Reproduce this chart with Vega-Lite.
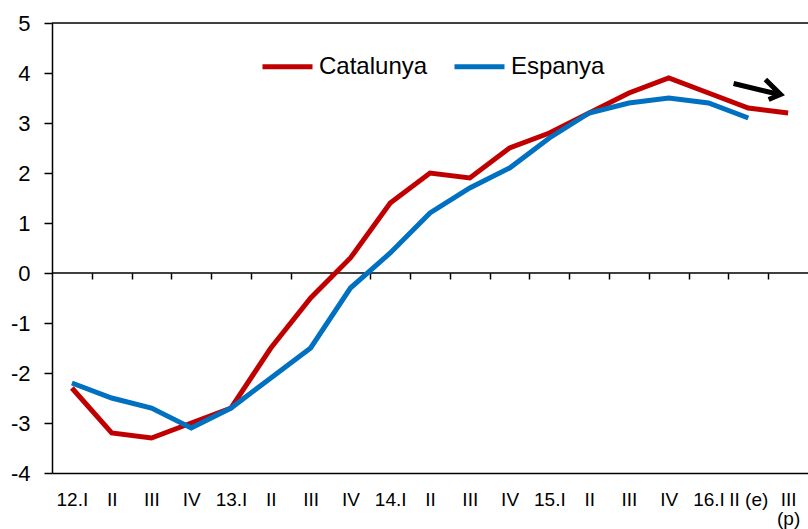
{
  "$schema": "https://vega.github.io/schema/vega-lite/v6.json",
  "width": 756,
  "height": 450,
  "autosize": {"type": "none"},
  "padding": {"left": 52, "top": 23, "right": 0, "bottom": 56},
  "background": "white",
  "config": {
    "view": {"stroke": null},
    "font": "Liberation Sans",
    "axis": {"labelFont": "Liberation Sans", "labelColor": "black", "domainColor": "black", "tickColor": "black", "grid": false, "title": null}
  },
  "datasets": {
    "series": [
      {"series": "Catalunya", "i": 0, "quarter": "12.I", "value": -2.3},
      {"series": "Catalunya", "i": 1, "quarter": "12.II", "value": -3.2},
      {"series": "Catalunya", "i": 2, "quarter": "12.III", "value": -3.3},
      {"series": "Catalunya", "i": 3, "quarter": "12.IV", "value": -3.0},
      {"series": "Catalunya", "i": 4, "quarter": "13.I", "value": -2.7},
      {"series": "Catalunya", "i": 5, "quarter": "13.II", "value": -1.5},
      {"series": "Catalunya", "i": 6, "quarter": "13.III", "value": -0.5},
      {"series": "Catalunya", "i": 7, "quarter": "13.IV", "value": 0.3},
      {"series": "Catalunya", "i": 8, "quarter": "14.I", "value": 1.4},
      {"series": "Catalunya", "i": 9, "quarter": "14.II", "value": 2.0},
      {"series": "Catalunya", "i": 10, "quarter": "14.III", "value": 1.9},
      {"series": "Catalunya", "i": 11, "quarter": "14.IV", "value": 2.5},
      {"series": "Catalunya", "i": 12, "quarter": "15.I", "value": 2.8},
      {"series": "Catalunya", "i": 13, "quarter": "15.II", "value": 3.2},
      {"series": "Catalunya", "i": 14, "quarter": "15.III", "value": 3.6},
      {"series": "Catalunya", "i": 15, "quarter": "15.IV", "value": 3.9},
      {"series": "Catalunya", "i": 16, "quarter": "16.I", "value": 3.6},
      {"series": "Catalunya", "i": 17, "quarter": "16.II (e)", "value": 3.3},
      {"series": "Catalunya", "i": 18, "quarter": "16.III (p)", "value": 3.2},
      {"series": "Espanya", "i": 0, "quarter": "12.I", "value": -2.2},
      {"series": "Espanya", "i": 1, "quarter": "12.II", "value": -2.5},
      {"series": "Espanya", "i": 2, "quarter": "12.III", "value": -2.7},
      {"series": "Espanya", "i": 3, "quarter": "12.IV", "value": -3.1},
      {"series": "Espanya", "i": 4, "quarter": "13.I", "value": -2.7},
      {"series": "Espanya", "i": 5, "quarter": "13.II", "value": -2.1},
      {"series": "Espanya", "i": 6, "quarter": "13.III", "value": -1.5},
      {"series": "Espanya", "i": 7, "quarter": "13.IV", "value": -0.3},
      {"series": "Espanya", "i": 8, "quarter": "14.I", "value": 0.4},
      {"series": "Espanya", "i": 9, "quarter": "14.II", "value": 1.2},
      {"series": "Espanya", "i": 10, "quarter": "14.III", "value": 1.7},
      {"series": "Espanya", "i": 11, "quarter": "14.IV", "value": 2.1},
      {"series": "Espanya", "i": 12, "quarter": "15.I", "value": 2.7},
      {"series": "Espanya", "i": 13, "quarter": "15.II", "value": 3.2},
      {"series": "Espanya", "i": 14, "quarter": "15.III", "value": 3.4},
      {"series": "Espanya", "i": 15, "quarter": "15.IV", "value": 3.5},
      {"series": "Espanya", "i": 16, "quarter": "16.I", "value": 3.4},
      {"series": "Espanya", "i": 17, "quarter": "16.II (e)", "value": 3.1}
    ],
    "arrow": [
      {"part": "shaft", "k": 0, "x": 16.63, "y": 3.79},
      {"part": "shaft", "k": 1, "x": 17.78, "y": 3.57},
      {"part": "head", "k": 0, "x": 17.43, "y": 3.87},
      {"part": "head", "k": 1, "x": 17.81, "y": 3.57},
      {"part": "head", "k": 2, "x": 17.51, "y": 3.47}
    ],
    "one": [{"ref": 1}]
  },
  "resolve": {"axis": {"x": "independent"}},
  "layer": [
    {
      "data": {"name": "one"},
      "mark": {"type": "rule", "color": "black", "strokeWidth": 1.5},
      "encoding": {"y": {"datum": 5, "type": "quantitative"}}
    },
    {
      "data": {"name": "one"},
      "mark": {"type": "rule", "color": "black", "strokeWidth": 1.5},
      "encoding": {
        "x": {
          "datum": -0.5,
          "type": "quantitative",
          "scale": {"domain": [-0.5, 18.5], "nice": false, "zero": false},
          "axis": {
            "orient": "bottom",
            "offset": -200,
            "values": [0.5, 1.5, 2.5, 3.5, 4.5, 5.5, 6.5, 7.5, 8.5, 9.5, 10.5, 11.5, 12.5, 13.5, 14.5, 15.5, 16.5, 17.5],
            "labels": false,
            "ticks": true,
            "tickSize": 6,
            "tickWidth": 1.5,
            "domain": false,
            "grid": false,
            "title": null
          }
        },
        "x2": {"datum": 18.5},
        "y": {"datum": 0, "type": "quantitative"}
      }
    },
    {
      "data": {"name": "series"},
      "mark": {"type": "line", "strokeWidth": 5},
      "encoding": {
        "x": {
          "field": "i",
          "type": "quantitative",
          "scale": {"domain": [-0.5, 18.5], "nice": false, "zero": false},
          "axis": {
            "orient": "bottom",
            "values": [0, 1, 2, 3, 4, 5, 6, 7, 8, 9, 10, 11, 12, 13, 14, 15, 16, 17, 18],
            "labelExpr": "['12.I','II','III','IV','13.I','II','III','IV','14.I','II','III','IV','15.I','II','III','IV','16.I','II (e)',['III','(p)']][datum.value]",
            "ticks": false,
            "labelPadding": 17,
            "labelFontSize": 19,
            "labelLineHeight": 19,
            "labelFlush": false,
            "labelOverlap": false,
            "labelBound": false,
            "labelAngle": 0,
            "domainWidth": 1.5,
            "grid": false,
            "title": null
          }
        },
        "y": {
          "field": "value",
          "type": "quantitative",
          "scale": {"domain": [-4, 5], "nice": false, "zero": false},
          "axis": {
            "values": [-4, -3, -2, -1, 0, 1, 2, 3, 4, 5],
            "labelExpr": "datum.value < 0 ? '-' + abs(datum.value) : '' + datum.value",
            "title": null,
            "tickSize": 8,
            "tickWidth": 1.5,
            "labelPadding": 14,
            "labelFontSize": 22,
            "domainWidth": 1.5,
            "grid": false
          }
        },
        "color": {
          "field": "series",
          "type": "nominal",
          "scale": {"domain": ["Catalunya", "Espanya"], "range": ["#C00000", "#0070C0"]},
          "legend": {
            "orient": "none",
            "legendX": 208,
            "legendY": 16,
            "direction": "horizontal",
            "title": null,
            "symbolType": "stroke",
            "symbolSize": 2500,
            "symbolStrokeWidth": 5,
            "labelFontSize": 24,
            "labelFont": "Liberation Sans",
            "labelColor": "black",
            "labelOffset": 4,
            "columnPadding": 16,
            "padding": 0,
            "labelLimit": 300
          }
        }
      }
    },
    {
      "data": {"name": "arrow"},
      "mark": {"type": "line", "strokeWidth": 5, "color": "black", "strokeCap": "butt", "strokeJoin": "miter"},
      "encoding": {
        "x": {"field": "x", "type": "quantitative", "axis": null},
        "y": {"field": "y", "type": "quantitative"},
        "detail": {"field": "part", "type": "nominal"},
        "order": {"field": "k", "type": "quantitative"}
      }
    }
  ]
}
